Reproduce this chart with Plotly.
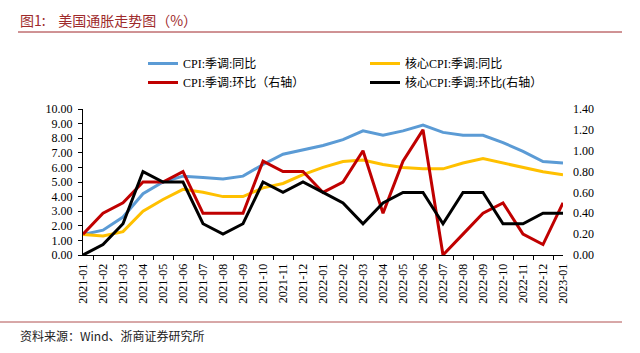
import plotly.graph_objects as go

months = ["2021-01","2021-02","2021-03","2021-04","2021-05","2021-06","2021-07","2021-08",
          "2021-09","2021-10","2021-11","2021-12","2022-01","2022-02","2022-03","2022-04",
          "2022-05","2022-06","2022-07","2022-08","2022-09","2022-10","2022-11","2022-12","2023-01"]

cpi_yoy = [1.4, 1.7, 2.6, 4.2, 5.0, 5.4, 5.3, 5.2, 5.4, 6.2, 6.9, 7.2, 7.5, 7.9, 8.5, 8.2,
           8.5, 8.9, 8.4, 8.2, 8.2, 7.7, 7.1, 6.4, 6.3]
core_yoy = [1.4, 1.3, 1.6, 3.0, 3.8, 4.5, 4.3, 4.0, 4.0, 4.6, 4.9, 5.5, 6.0, 6.4, 6.5, 6.2,
            6.0, 5.9, 5.9, 6.3, 6.6, 6.3, 6.0, 5.7, 5.5]
cpi_mom = [0.2, 0.4, 0.5, 0.7, 0.7, 0.8, 0.4, 0.4, 0.4, 0.9, 0.8, 0.8, 0.6, 0.7, 1.0, 0.4,
           0.9, 1.2, 0.0, 0.2, 0.4, 0.5, 0.2, 0.1, 0.5]
core_mom = [0.0, 0.1, 0.3, 0.8, 0.7, 0.7, 0.3, 0.2, 0.3, 0.7, 0.6, 0.7, 0.6, 0.5, 0.3, 0.5,
            0.6, 0.6, 0.3, 0.6, 0.6, 0.3, 0.3, 0.4, 0.4]

names = ["CPI:季调:同比", "核心CPI:季调:同比", "CPI:季调:环比（右轴）", "核心CPI:季调:环比(右轴）"]
colors = ["#5B9BD5", "#FFC000", "#C00000", "#000000"]

FONT = "Liberation Serif, Noto Sans CJK SC, serif"

fig = go.Figure()
fig.add_trace(go.Scatter(x=months, y=cpi_yoy, name=names[0], mode="lines",
                         line=dict(color=colors[0], width=3)))
fig.add_trace(go.Scatter(x=months, y=core_yoy, name=names[1], mode="lines",
                         line=dict(color=colors[1], width=3)))
fig.add_trace(go.Scatter(x=months, y=cpi_mom, name=names[2], mode="lines", yaxis="y2",
                         line=dict(color=colors[2], width=3)))
fig.add_trace(go.Scatter(x=months, y=core_mom, name=names[3], mode="lines", yaxis="y2",
                         line=dict(color=colors[3], width=3)))

L, R, T, B = 83, 77, 109, 98
W, H = 640, 353
pw, ph = W - L - R, H - T - B

def px(x):
    return (x - L) / pw

def py(y):
    return (H - B - y) / ph

fig.update_layout(
    width=W, height=H,
    margin=dict(l=L, r=R, t=T, b=B),
    paper_bgcolor="white", plot_bgcolor="white",
    font=dict(family=FONT, size=12, color="#000000"),
    showlegend=True,
    legend=dict(orientation="h", x=px(143), y=py(49), xanchor="left", yanchor="top",
                entrywidth=177, entrywidthmode="pixels", itemwidth=30,
                font=dict(family=FONT, size=12), bgcolor="rgba(0,0,0,0)",
                tracegroupgap=0),
    xaxis=dict(type="category", showline=True, linecolor="#000000", linewidth=1,
               ticks="outside", tickson="boundaries", ticklen=4, tickcolor="#000000",
               tickangle=-90, showgrid=False, zeroline=False, ticklabelstandoff=3,
               tickfont=dict(family=FONT, size=12)),
    yaxis=dict(range=[0, 10], dtick=1, tickformat=".2f", showline=True, linecolor="#000000",
               linewidth=1, ticks="outside", ticklen=4, tickcolor="#000000",
               showgrid=False, zeroline=False, ticklabelstandoff=3,
               tickfont=dict(family=FONT, size=12)),
    yaxis2=dict(range=[0, 1.4], dtick=0.2, tickformat=".2f", overlaying="y", side="right",
                showline=False, ticks="", showgrid=False, zeroline=False,
                ticklabelstandoff=9, tickfont=dict(family=FONT, size=12)),
)

fig.add_annotation(text="图1:&nbsp;&nbsp;&nbsp;&nbsp;美国通胀走势图（%）", xref="paper", yref="paper",
                   x=px(18), y=py(20), xanchor="left", yanchor="middle", showarrow=False,
                   font=dict(family="Noto Sans CJK SC", size=14, color="#9E2A2B"))
fig.add_annotation(text="资料来源：Wind、浙商证券研究所", xref="paper", yref="paper",
                   x=px(18), y=py(335), xanchor="left", yanchor="middle", showarrow=False,
                   font=dict(family="Noto Sans CJK SC", size=12, color="#222222"))
fig.add_shape(type="line", xref="paper", yref="paper", x0=px(18), x1=px(622),
              y0=py(32), y1=py(32), line=dict(color="#A0262A", width=1))
fig.add_shape(type="line", xref="paper", yref="paper", x0=px(0), x1=px(622),
              y0=py(322), y1=py(322), line=dict(color="#B05050", width=1))

fig.write_html("out.html")
